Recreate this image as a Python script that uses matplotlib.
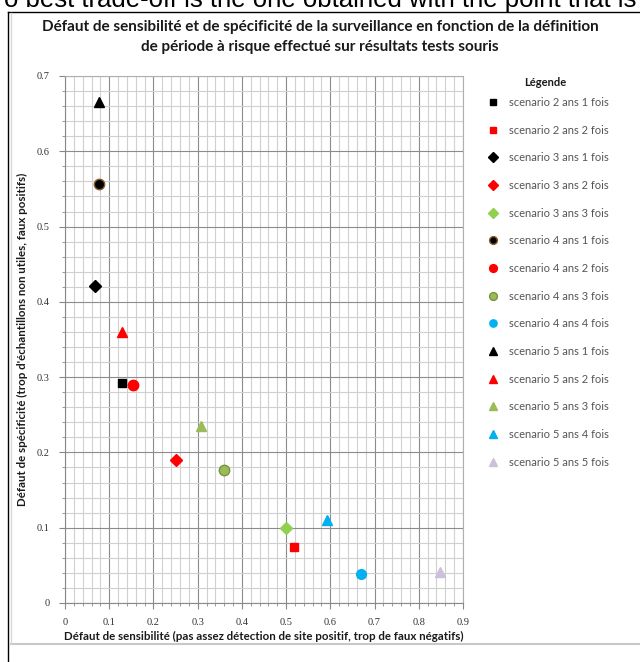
import numpy as np
import matplotlib.pyplot as plt
from matplotlib.ticker import MultipleLocator, FuncFormatter
from matplotlib.lines import Line2D

plt.rcParams['font.family'] = ['Lato', 'DejaVu Sans']

# data
labels = ['scenario 2 ans 1 fois', 'scenario 2 ans 2 fois',
          'scenario 3 ans 1 fois', 'scenario 3 ans 2 fois', 'scenario 3 ans 3 fois',
          'scenario 4 ans 1 fois', 'scenario 4 ans 2 fois', 'scenario 4 ans 3 fois',
          'scenario 4 ans 4 fois',
          'scenario 5 ans 1 fois', 'scenario 5 ans 2 fois', 'scenario 5 ans 3 fois',
          'scenario 5 ans 4 fois', 'scenario 5 ans 5 fois']
sens = [0.130, 0.518, 0.068, 0.250, 0.500, 0.078, 0.154, 0.360, 0.669,
        0.078, 0.130, 0.308, 0.592, 0.848]
spec = [0.292, 0.074, 0.421, 0.190, 0.099, 0.556, 0.290, 0.177, 0.038,
        0.665, 0.360, 0.235, 0.110, 0.041]

markers = ['s', 's', 'D', 'D', 'D', 'o', 'o', 'o', 'o', '^', '^', '^', '^', '^']
colors = ['black', '#ff0000', 'black', '#ff0000', '#92d050', 'black', '#ff0000',
          '#9bbb59', '#00b0f0', 'black', '#ff0000', '#9bbb59', '#00b0f0', '#ccc0da']
edges = ['black', '#ff0000', 'black', '#ff0000', '#92d050', '#8b5a2b', '#ff0000',
         '#77933c', '#00b0f0', 'black', '#ff0000', '#9bbb59', '#00b0f0', '#ccc0da']
sizes = [6, 6, 6.5, 6.5, 6.5, 7.5, 7.5, 7.5, 7, 7, 7, 7, 7.5, 7]

fig = plt.figure(figsize=(6.4, 6.62), dpi=100)

# surrounding frame bits of the screenshot
fig.text(0.5, 1 - 7 / 662, "o best trade-off is the one obtained with the point that is",
         ha='center', va='baseline', fontsize=18.5, family='Liberation Sans')
fig.add_artist(Line2D([8 / 640, 1], [1 - 12 / 662] * 2, color='black', lw=1))
fig.add_artist(Line2D([8 / 640] * 2, [0, 1 - 12 / 662], color='black', lw=1))
fig.add_artist(Line2D([11 / 640, 1], [1 - 644 / 662] * 2, color='#c8c8c8', lw=1.5))
fig.add_artist(Line2D([11 / 640] * 2, [1 - 644 / 662, 1 - 13 / 662], color='#d8d8d8', lw=1))

fig.text(0.5, 1 - 27 / 662, "Défaut de sensibilité et de spécificité de la surveillance en fonction de la définition",
         ha='center', va='center', fontsize=11, fontweight='bold', color='#1a1a1a')
fig.text(0.5, 1 - 47 / 662, "de période à risque effectué sur résultats tests souris",
         ha='center', va='center', fontsize=11, fontweight='bold', color='#1a1a1a')

ax = fig.add_axes([65 / 640, 1 - 603 / 662, (463 - 65) / 640, (603 - 76) / 662])

for i in range(len(labels)):
    ax.plot(sens[i], spec[i], linestyle='none', marker=markers[i], ms=sizes[i],
            color=colors[i], markeredgecolor=edges[i], label=labels[i], zorder=3)

ax.set_xlim(0, 0.9)
ax.set_ylim(0, 0.7)
ax.xaxis.set_major_locator(MultipleLocator(0.1))
ax.xaxis.set_minor_locator(MultipleLocator(0.02))
ax.yaxis.set_major_locator(MultipleLocator(0.1))
ax.yaxis.set_minor_locator(MultipleLocator(0.02))
fmt = FuncFormatter(lambda v, p: f'{round(v, 1):g}')
ax.xaxis.set_major_formatter(fmt)
ax.yaxis.set_major_formatter(fmt)
for lab in ax.get_xticklabels() + ax.get_yticklabels():
    lab.set_family('Liberation Serif')
ax.grid(which='major', color='#8c8c8c', lw=0.8)
ax.grid(which='minor', color='#d0d0d0', lw=0.8)
ax.set_axisbelow(True)
for s in ax.spines.values():
    s.set_color('#b0b0b0')
ax.spines['left'].set_color('#888888')
ax.spines['bottom'].set_color('#888888')
ax.tick_params(which='major', length=4, color='#888888', labelsize=7.5,
               labelcolor='#333333', pad=7)
ax.tick_params(which='minor', length=2, color='#888888')
ax.tick_params(axis='y', which='both', direction='out')

ax.set_xlabel("Défaut de sensibilité (pas assez détection de site positif, trop de faux négatifs)",
              fontsize=8.3, fontweight='bold', color='#1a1a1a', labelpad=3)
ax.set_ylabel("Défaut de spécificité (trop d'échantillons non utiles, faux positifs)",
              fontsize=8.3, fontweight='bold', color='#1a1a1a', labelpad=6)

# legend title drawn separately, entries below it
fig.text(545 / 640, 1 - 83 / 662, 'Légende', ha='center', va='center',
         fontsize=8, fontweight='bold', color='#1a1a1a')
leg = ax.legend(loc='upper left', bbox_to_anchor=(487 / 640, 1 - 97 / 662),
                bbox_transform=fig.transFigure, frameon=False, borderaxespad=0,
                borderpad=0, fontsize=8, labelspacing=1.5,
                handletextpad=0.95, handlelength=1.0, markerscale=0.75)
for t in leg.get_texts():
    t.set_color('#555555')

fig.savefig('out.png', dpi=100)
